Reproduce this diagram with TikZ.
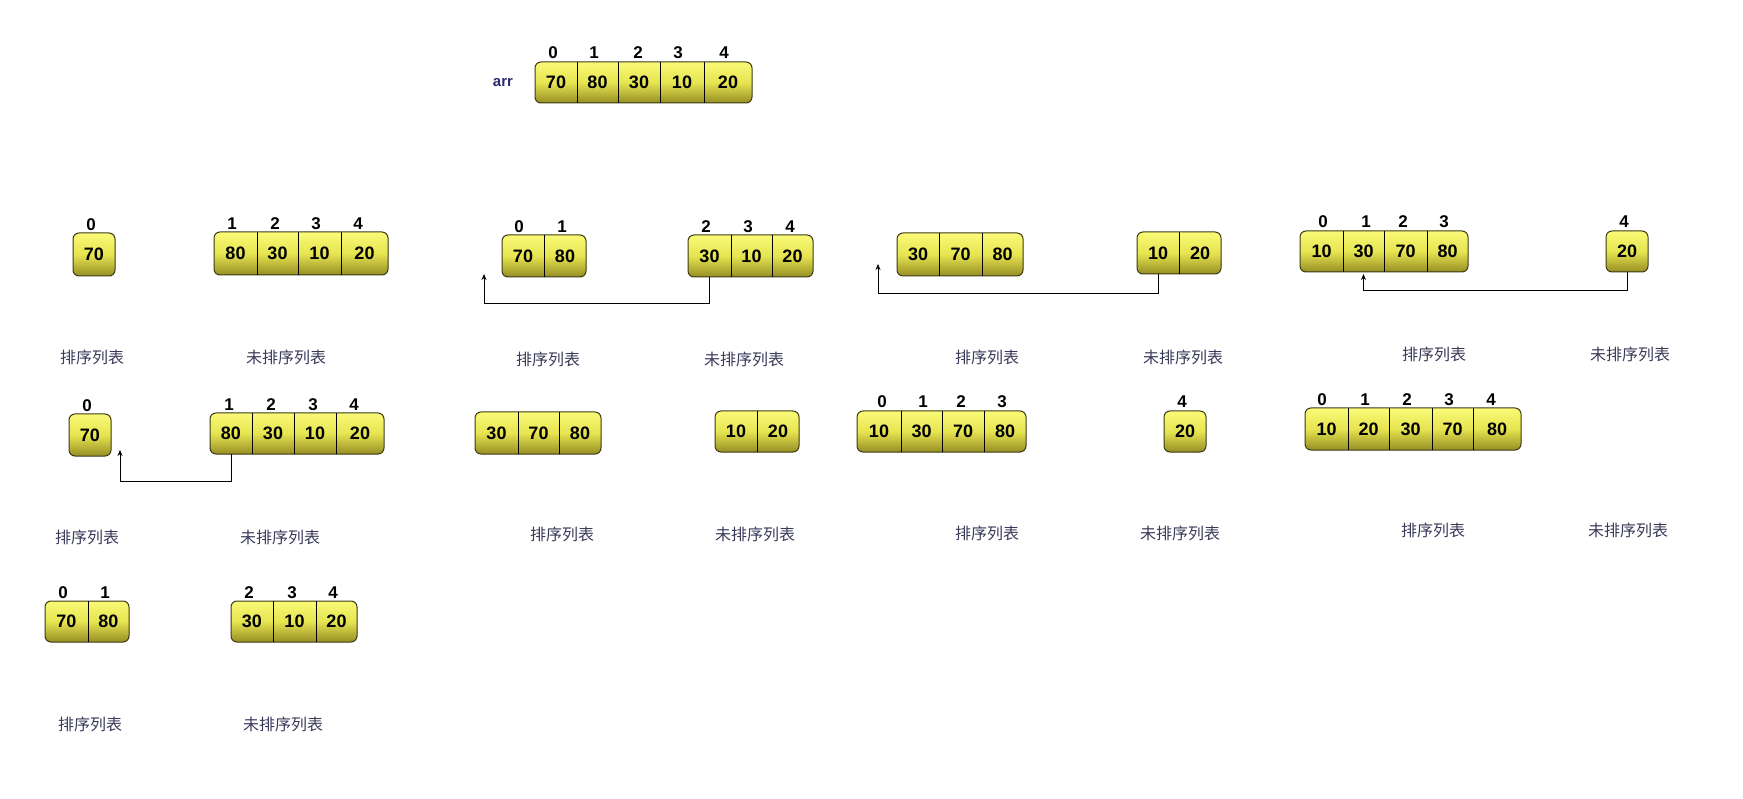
\documentclass[tikz,border=0pt]{standalone}
\usepackage{fontspec}
\setmainfont{Liberation Sans}
\newfontfamily\cjk{Noto Sans CJK SC}
\usetikzlibrary{arrows.meta}
\definecolor{lbl}{RGB}{58,58,90}
\definecolor{arrtxt}{RGB}{45,45,110}
\definecolor{ytop}{RGB}{250,250,120}
\definecolor{ymid}{RGB}{230,228,80}
\definecolor{ybot}{RGB}{150,142,36}
\definecolor{bord}{RGB}{60,58,20}
\tikzset{
 arrbody/.style={rectangle, rounded corners=6pt, draw=bord, line width=1pt, top color=ytop, bottom color=ybot, middle color=ymid, inner sep=0pt, outer sep=0pt},
 numtxt/.style={font=\fontsize{18}{18}\selectfont\bfseries, inner sep=0pt},
 idxtxt/.style={font=\fontsize{17}{17}\selectfont\bfseries, inner sep=0pt},
 divider/.style={line width=0.9pt, draw=black},
 lbltxt/.style={font=\cjk\fontsize{16}{16}\selectfont, text=lbl, inner sep=0pt},
 arrlbl/.style={font=\fontsize{15}{15}\selectfont\bfseries, text=arrtxt, inner sep=0pt},
 conn/.style={line width=0.9pt, -{Stealth[length=6pt,width=5pt]}},
}
\newcommand\mkarr[6]{%
  \pgfmathsetmacro\bw{#3-#2}\pgfmathsetmacro\bh{#5-#4}%
  \node[arrbody, minimum width=\bw pt, minimum height=\bh pt] (#1) at ({(#2+#3)/2},{(#4+#5)/2}) {};
  \foreach \xa/\xb/\vv [count=\k] in {#6} {
    \node[numtxt] (#1-\k) at ({(\xa+\xb)/2},{(#4+#5)/2}) {\vv};
    \ifdim\xb pt<#3pt \draw[divider] (\xb,#4) -- (\xb,#5);\fi
  }
}
\newcommand\mkidx[3]{%
  \foreach \xi/\ixt [count=\k] in {#3} {\node[idxtxt] (#1-i\k) at (\xi,#2) {\ixt};}
}
\begin{document}
\begin{tikzpicture}[x=1pt,y=-1pt]
\fill[white] (0,0) rectangle (1743,799);
\useasboundingbox (0,0) rectangle (1743,799);
% top array
\node[arrlbl] (arrname) at (503,83) {arr};
\mkarr{A}{535}{752}{62}{103}{535/577/70, 577/618/80, 618/660/30, 660/704/10, 704/752/20}
\mkidx{A}{53}{553/0, 594/1, 638/2, 678/3, 724/4}
% row 1
\mkarr{B1}{73}{115}{233}{276}{73/115/70}
\mkidx{B1}{225}{91/0}
\mkarr{B2}{214}{388}{232}{275}{214/257/80, 257/298/30, 298/341/10, 341/388/20}
\mkidx{B2}{224}{232/1, 275/2, 316/3, 358/4}
\mkarr{C1}{502}{586}{235}{277}{502/544/70, 544/586/80}
\mkidx{C1}{227}{519/0, 562/1}
\mkarr{C2}{688}{813}{235}{277}{688/731/30, 731/772/10, 772/813/20}
\mkidx{C2}{227}{706/2, 748/3, 790/4}
\mkarr{D1}{897}{1023}{233}{276}{897/939/30, 939/982/70, 982/1023/80}
\mkarr{D2}{1137}{1221}{232}{274}{1137/1179/10, 1179/1221/20}
\mkarr{E1}{1300}{1468}{231}{272}{1300/1343/10, 1343/1384/30, 1384/1427/70, 1427/1468/80}
\mkidx{E1}{222}{1323/0, 1366/1, 1403/2, 1444/3}
\mkarr{E2}{1606}{1648}{231}{272}{1606/1648/20}
\mkidx{E2}{222}{1624/4}
% row 2
\mkarr{F1}{69}{111}{414}{456}{69/111/70}
\mkidx{F1}{406}{87/0}
\mkarr{F2}{210}{384}{413}{454}{210/252/80, 252/294/30, 294/336/10, 336/384/20}
\mkidx{F2}{405}{229/1, 271/2, 313/3, 354/4}
\mkarr{G1}{475}{601}{412}{454}{475/518/30, 518/559/70, 559/601/80}
\mkarr{G2}{715}{799}{411}{452}{715/757/10, 757/799/20}
\mkarr{H1}{857}{1026}{411}{452}{857/901/10, 901/942/30, 942/984/70, 984/1026/80}
\mkidx{H1}{402}{882/0, 923/1, 961/2, 1002/3}
\mkarr{H2}{1164}{1206}{411}{452}{1164/1206/20}
\mkidx{H2}{402}{1182/4}
\mkarr{I1}{1305}{1521}{408}{450}{1305/1348/10, 1348/1389/20, 1389/1432/30, 1432/1473/70, 1473/1521/80}
\mkidx{I1}{400}{1322/0, 1365/1, 1407/2, 1449/3, 1491/4}
% row 3
\mkarr{J1}{45}{129}{601}{642}{45/88/70, 88/129/80}
\mkidx{J1}{593}{63/0, 105/1}
\mkarr{J2}{231}{357}{601}{642}{231/273/30, 273/316/10, 316/357/20}
\mkidx{J2}{593}{249/2, 292/3, 333/4}
% labels
\node[lbltxt] (L1) at (92,357) {排序列表};
\node[lbltxt] (L2) at (286,357) {未排序列表};
\node[lbltxt] (L3) at (548,359) {排序列表};
\node[lbltxt] (L4) at (744,359) {未排序列表};
\node[lbltxt] (L5) at (987,357) {排序列表};
\node[lbltxt] (L6) at (1183,357) {未排序列表};
\node[lbltxt] (L7) at (1434,354) {排序列表};
\node[lbltxt] (L8) at (1630,354) {未排序列表};
\node[lbltxt] (L9) at (87,537) {排序列表};
\node[lbltxt] (L10) at (280,537) {未排序列表};
\node[lbltxt] (L11) at (562,534) {排序列表};
\node[lbltxt] (L12) at (755,534) {未排序列表};
\node[lbltxt] (L13) at (987,533) {排序列表};
\node[lbltxt] (L14) at (1180,533) {未排序列表};
\node[lbltxt] (L15) at (1433,530) {排序列表};
\node[lbltxt] (L16) at (1628,530) {未排序列表};
\node[lbltxt] (L17) at (90,724) {排序列表};
\node[lbltxt] (L18) at (283,724) {未排序列表};
% connectors
\coordinate (Cend) at (484,274);
\draw[conn] (C2-1 |- C2.south) -- ++(0,26) -| (Cend);
\coordinate (Dend) at (878,264);
\draw[conn] (D2-1 |- D2.south) -- ++(0,19) -| (Dend);
\coordinate (Eend) at ([yshift=-2pt]E1-2 |- E1.south);
\draw[conn] (E2-1 |- E2.south) -- ++(0,18) -| (Eend);
\coordinate (Fend) at (120,450);
\draw[conn] (F2-1 |- F2.south) -- ++(0,27) -| (Fend);
\end{tikzpicture}
\end{document}
